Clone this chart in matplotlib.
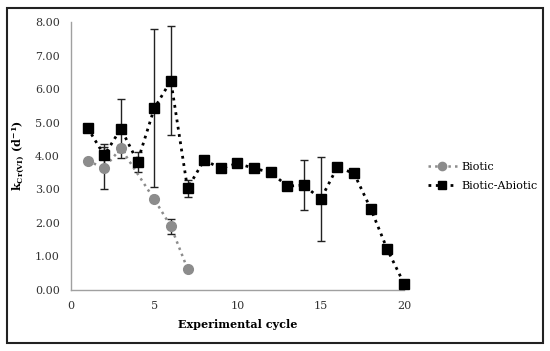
import numpy as np
import matplotlib
matplotlib.use("Agg")
from matplotlib import pyplot as plt
from matplotlib.patches import Rectangle

plt.rc('font', family='DejaVu Serif', size=8)
plt.rc('mathtext', fontset='dejavuserif')

# Biotic series
cycle_bio = [1, 2, 3, 5, 6, 7]
k_bio = [3.85, 3.65, 4.23, 2.71, 1.90, 0.63]
err_bio = [0.0, 0.63, 0.10, 0.0, 0.22, 0.0]

# Biotic-Abiotic series
cycle_ba = list(range(1, 21))
k_ba = [4.84, 4.02, 4.82, 3.83, 5.42, 6.25, 3.03, 3.88, 3.63, 3.78,
        3.63, 3.51, 3.10, 3.13, 2.71, 3.67, 3.48, 2.43, 1.21, 0.19]
err_ba = [0.08, 0.33, 0.89, 0.30, 2.36, 1.62, 0.26, 0.08, 0.0, 0.0,
          0.0, 0.0, 0.0, 0.74, 1.26, 0.0, 0.0, 0.0, 0.0, 0.0]

fig = plt.figure(figsize=(5.5, 3.51), dpi=100)
ax = fig.add_axes([0.129, 0.174, 0.6055, 0.763])

ax.errorbar(cycle_bio, k_bio, yerr=err_bio, fmt='none', ecolor='#222222',
            elinewidth=1, capsize=3, capthick=1, zorder=2)
ax.errorbar(cycle_ba, k_ba, yerr=err_ba, fmt='none', ecolor='#222222',
            elinewidth=1, capsize=3, capthick=1, zorder=2)
ax.plot(cycle_bio, k_bio, linestyle=':', color='#8c8c8c', linewidth=1.8,
        marker='o', markersize=7, markerfacecolor='#8c8c8c', markeredgecolor='#8c8c8c',
        label='Biotic', zorder=3, clip_on=False)
ax.plot(cycle_ba, k_ba, linestyle=':', color='black', linewidth=2,
        marker='s', markersize=7.5, markerfacecolor='black', markeredgecolor='black',
        label='Biotic-Abiotic', zorder=4, clip_on=False)

ax.set_xlim(0, 20)
ax.set_ylim(0, 8)
ax.set_xticks([0, 5, 10, 15, 20])
ax.set_yticks(np.arange(0, 9, 1))
ax.set_yticklabels([f"{v:.2f}" for v in np.arange(0, 9, 1)])
ax.tick_params(length=0, pad=8, labelcolor='#333333')
for s in ['top', 'right']:
    ax.spines[s].set_visible(False)
for s in ['left', 'bottom']:
    ax.spines[s].set_color('#a0a0a0')
    ax.spines[s].set_linewidth(1)

ax.set_xlabel('Experimental cycle', fontweight='bold', labelpad=6)
ax.set_ylabel(r'k$_{\mathbf{Cr(VI)}}$ (d$^{\mathbf{-1}}$)', fontweight='bold', labelpad=6)

leg = fig.legend(loc='upper left', bbox_to_anchor=(428/550, 1 - 162/351), frameon=False,
                 borderpad=0, borderaxespad=0, handlelength=2.6, handletextpad=0.4,
                 fontsize=8, labelspacing=0.8, markerscale=0.85)

fig.patches.append(Rectangle((7/550, 8/351), 536/550, 335/351, transform=fig.transFigure,
                             fill=False, edgecolor='#222222', linewidth=1.5))

fig.savefig('out.png', dpi=100)
